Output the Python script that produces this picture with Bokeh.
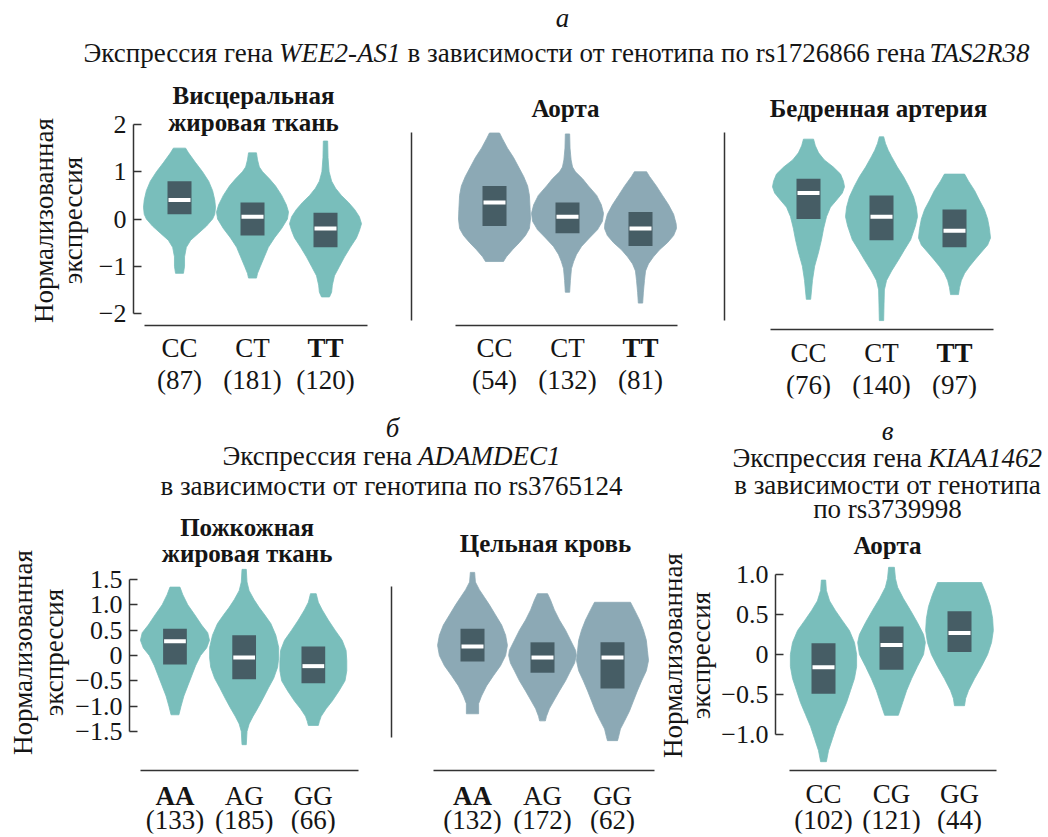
import math
from bokeh.plotting import figure
from bokeh.models import Range1d, LinearAxis, FixedTicker, Label
from bokeh.layouts import column, row
from bokeh.embed import file_html
from bokeh.resources import INLINE

SERIF = "Liberation Serif"
TEXT = "#151515"
AXIS = "#333333"
TEAL = "#79bebb"
SLATE = "#8ca9b5"
BOX = "#465d65"

# ---------------- data ----------------
# violin profiles: *_y = expression level, *_d = relative density (violin half-width, 0..1)
# а: WEE2-AS1 by rs1726866
p1_genotypes = ["CC", "CT", "TT"]
p1_counts = [87, 181, 120]
p1_q1 = [0.10, -0.35, -0.60]
p1_median = [0.40, 0.05, -0.20]
p1_q3 = [0.80, 0.35, 0.13]
p1_cc_y = [-1.15, -1.0, -0.8, -0.6, -0.45, -0.3, -0.15, 0.0, 0.1, 0.25, 0.4, 0.6, 0.8, 1.0, 1.2, 1.4, 1.5]
p1_cc_d = [0.11, 0.14, 0.14, 0.19, 0.31, 0.53, 0.75, 0.92, 0.98, 1.0, 0.98, 0.92, 0.81, 0.64, 0.44, 0.25, 0.17]
p1_ct_y = [-1.25, -1.15, -1.0, -0.8, -0.6, -0.4, -0.2, 0.0, 0.15, 0.3, 0.5, 0.7, 0.85, 1.0, 1.1, 1.25, 1.4]
p1_ct_d = [0.11, 0.14, 0.22, 0.33, 0.44, 0.61, 0.81, 0.97, 1.0, 0.94, 0.81, 0.64, 0.47, 0.28, 0.19, 0.14, 0.11]
p1_tt_y = [-1.65, -1.55, -1.4, -1.2, -1.0, -0.8, -0.6, -0.4, -0.25, -0.1, 0.05, 0.2, 0.35, 0.5, 0.65, 0.8, 1.0, 1.3, 1.65]
p1_tt_d = [0.11, 0.17, 0.19, 0.25, 0.39, 0.53, 0.69, 0.86, 0.94, 1.0, 0.94, 0.81, 0.64, 0.44, 0.28, 0.17, 0.1, 0.07, 0.06]

p2_genotypes = ["CC", "CT", "TT"]
p2_counts = [54, 132, 81]
p2_q1 = [-0.15, -0.30, -0.57]
p2_median = [0.35, 0.05, -0.20]
p2_q3 = [0.70, 0.35, 0.15]
p2_cc_y = [-0.9, -0.8, -0.65, -0.5, -0.35, -0.2, 0.0, 0.2, 0.5, 0.7, 0.9, 1.1, 1.3, 1.5, 1.7, 1.82]
p2_cc_d = [0.25, 0.33, 0.5, 0.69, 0.86, 0.97, 1.0, 0.99, 0.97, 0.92, 0.81, 0.67, 0.53, 0.36, 0.22, 0.14]
p2_ct_y = [-1.55, -1.3, -1.05, -0.9, -0.75, -0.58, -0.4, -0.23, -0.05, 0.12, 0.3, 0.5, 0.7, 0.85, 1.0, 1.1, 1.25, 1.5, 1.8]
p2_ct_d = [0.06, 0.08, 0.11, 0.17, 0.25, 0.39, 0.61, 0.83, 0.97, 1.0, 0.94, 0.81, 0.58, 0.42, 0.22, 0.14, 0.1, 0.07, 0.06]
p2_tt_y = [-1.78, -1.55, -1.3, -1.1, -0.95, -0.8, -0.65, -0.5, -0.35, -0.2, -0.1, 0.1, 0.3, 0.5, 0.7, 0.9, 1.0]
p2_tt_d = [0.06, 0.08, 0.11, 0.14, 0.22, 0.36, 0.53, 0.75, 0.92, 1.0, 0.99, 0.92, 0.78, 0.61, 0.44, 0.25, 0.17]

p3_genotypes = ["CC", "CT", "TT"]
p3_counts = [76, 140, 97]
p3_q1 = [0.0, -0.45, -0.60]
p3_median = [0.55, 0.05, -0.25]
p3_q3 = [0.85, 0.50, 0.20]
p3_cc_y = [-1.7, -1.3, -1.0, -0.7, -0.44, -0.2, 0.05, 0.25, 0.4, 0.55, 0.68, 0.8, 0.95, 1.1, 1.25, 1.4, 1.55, 1.69]
p3_cc_d = [0.06, 0.11, 0.17, 0.28, 0.36, 0.42, 0.5, 0.61, 0.78, 0.94, 1.0, 0.97, 0.89, 0.69, 0.44, 0.28, 0.19, 0.14]
p3_ct_y = [-2.15, -1.8, -1.5, -1.3, -1.1, -0.87, -0.65, -0.44, -0.15, 0.05, 0.25, 0.47, 0.7, 0.9, 1.1, 1.32, 1.45, 1.6, 1.74]
p3_ct_d = [0.06, 0.07, 0.08, 0.14, 0.28, 0.47, 0.64, 0.81, 0.94, 1.0, 0.97, 0.89, 0.75, 0.61, 0.44, 0.28, 0.19, 0.11, 0.06]
p3_tt_y = [-1.6, -1.45, -1.3, -1.15, -1.0, -0.85, -0.7, -0.55, -0.4, -0.2, 0.0, 0.2, 0.4, 0.6, 0.8, 0.95]
p3_tt_d = [0.11, 0.14, 0.19, 0.28, 0.42, 0.58, 0.75, 0.92, 1.0, 0.97, 0.92, 0.83, 0.69, 0.56, 0.39, 0.28]

# б: ADAMDEC1 by rs3765124
p4_genotypes = ["AA", "AG", "GG"]
p4_counts = [133, 185, 66]
p4_q1 = [-0.18, -0.47, -0.55]
p4_median = [0.28, -0.04, -0.21]
p4_q3 = [0.53, 0.40, 0.18]
p4_aa_y = [-1.17, -1.0, -0.8, -0.6, -0.4, -0.2, 0.0, 0.15, 0.3, 0.45, 0.6, 0.8, 1.0, 1.2, 1.35]
p4_aa_d = [0.11, 0.17, 0.25, 0.36, 0.47, 0.58, 0.72, 0.89, 0.97, 0.92, 0.75, 0.56, 0.36, 0.22, 0.14]
p4_ag_y = [-1.76, -1.5, -1.35, -1.2, -1.03, -0.85, -0.63, -0.45, -0.23, -0.05, 0.16, 0.4, 0.63, 0.8, 0.95, 1.1, 1.28, 1.45, 1.7]
p4_ag_d = [0.06, 0.08, 0.14, 0.25, 0.39, 0.53, 0.69, 0.83, 0.94, 0.97, 0.97, 0.89, 0.75, 0.58, 0.42, 0.28, 0.14, 0.08, 0.06]
p4_gg_y = [-1.38, -1.3, -1.2, -1.05, -0.9, -0.7, -0.5, -0.3, -0.1, 0.1, 0.3, 0.5, 0.7, 0.9, 1.05, 1.22]
p4_gg_d = [0.14, 0.17, 0.22, 0.36, 0.53, 0.72, 0.89, 0.94, 0.94, 0.92, 0.81, 0.61, 0.42, 0.25, 0.14, 0.08]

p5_genotypes = ["AA", "AG", "GG"]
p5_counts = [132, 172, 62]
p5_q1 = [-0.12, -0.34, -0.65]
p5_median = [0.18, -0.04, -0.04]
p5_q3 = [0.53, 0.26, 0.26]
p5_aa_y = [-1.15, -0.95, -0.8, -0.6, -0.4, -0.2, 0.0, 0.2, 0.4, 0.6, 0.8, 1.0, 1.15, 1.3, 1.45, 1.64]
p5_aa_d = [0.17, 0.17, 0.25, 0.39, 0.58, 0.78, 0.92, 0.97, 0.92, 0.81, 0.64, 0.47, 0.33, 0.19, 0.08, 0.06]
p5_ag_y = [-1.29, -1.2, -1.05, -0.9, -0.7, -0.5, -0.3, -0.15, 0.0, 0.1, 0.3, 0.5, 0.7, 0.9, 1.1, 1.22]
p5_ag_d = [0.08, 0.11, 0.19, 0.31, 0.47, 0.64, 0.78, 0.89, 0.94, 0.92, 0.78, 0.64, 0.47, 0.33, 0.22, 0.14]
p5_gg_y = [-1.68, -1.6, -1.45, -1.3, -1.1, -0.9, -0.7, -0.5, -0.3, -0.1, 0.1, 0.3, 0.5, 0.7, 0.9, 1.05]
p5_gg_d = [0.14, 0.17, 0.22, 0.33, 0.47, 0.58, 0.69, 0.81, 0.94, 1.0, 0.97, 0.94, 0.86, 0.75, 0.61, 0.5]

# в: KIAA1462 by rs3739998
p6_genotypes = ["CC", "CG", "GG"]
p6_counts = [102, 121, 44]
p6_q1 = [-0.49, -0.19, 0.03]
p6_median = [-0.16, 0.12, 0.27]
p6_q3 = [0.14, 0.35, 0.54]
p6_cc_y = [-1.34, -1.2, -1.05, -0.9, -0.75, -0.6, -0.45, -0.3, -0.15, 0.0, 0.15, 0.3, 0.42, 0.55, 0.67, 0.8, 0.93]
p6_cc_d = [0.08, 0.14, 0.25, 0.36, 0.5, 0.64, 0.75, 0.86, 0.92, 0.92, 0.86, 0.72, 0.53, 0.33, 0.17, 0.08, 0.06]
p6_cg_y = [-0.76, -0.6, -0.45, -0.3, -0.15, 0.0, 0.15, 0.25, 0.4, 0.55, 0.7, 0.84, 0.95, 1.09]
p6_cg_d = [0.19, 0.31, 0.42, 0.56, 0.72, 0.89, 0.94, 0.89, 0.72, 0.53, 0.33, 0.17, 0.11, 0.08]
p6_gg_y = [-0.64, -0.55, -0.45, -0.3, -0.15, 0.0, 0.15, 0.3, 0.45, 0.6, 0.75, 0.9]
p6_gg_d = [0.14, 0.17, 0.25, 0.42, 0.61, 0.78, 0.89, 0.94, 0.92, 0.86, 0.75, 0.61]

ticks_2 = [-2, -1, 0, 1, 2]
ticks_2_text = ["\u22122", "\u22121", "0", "1", "2"]
ticks_15 = [-1.5, -1.0, -0.5, 0, 0.5, 1.0, 1.5]
ticks_15_text = ["\u22121.5", "\u22121.0", "\u22120.5", "0", "0.5", "1.0", "1.5"]
ticks_1 = [-1.0, -0.5, 0, 0.5, 1.0]
ticks_1_text = ["\u22121.0", "\u22120.5", "0", "0.5", "1.0"]

YLABEL_1 = "Нормализованная"
YLABEL_2 = "экспрессия"

# ---------------- layout (page pixels) ----------------
BB = 2  # bottom border of every panel canvas
L1 = dict(cx0=92, cx1=395, cy0=80, cy1=400, left=133, c0=179, sp=73, zero=218.5, ppu=47.25,
          axis_x=(144, 367), axis_y=325, lab_y=347, cnt_y=379)
L2 = dict(cx0=395, cx1=705, cy0=80, cy1=400, left=411, c0=494, sp=73, zero=218.5, ppu=47.25,
          axis_x=(455, 677), axis_y=325, lab_y=347, cnt_y=379, vline=(132, 320))
L3 = dict(cx0=705, cx1=1046, cy0=80, cy1=400, left=724, c0=808, sp=73, zero=218.5, ppu=47.25,
          axis_x=(770, 993), axis_y=329, lab_y=352, cnt_y=384, vline=(132, 320))
L4 = dict(cx0=72, cx1=385, cy0=505, cy1=835, left=126, c0=172, sp=70, zero=655, ppu=50.67,
          axis_x=(137, 358), axis_y=770, lab_y=795, cnt_y=819)
L5 = dict(cx0=385, cx1=655, cy0=505, cy1=835, left=391, c0=472, sp=70, zero=655, ppu=50.67,
          axis_x=(433, 654), axis_y=770, lab_y=795, cnt_y=819, vline=(586, 737))
L6 = dict(cx0=718, cx1=1046, cy0=524, cy1=835, left=775, c0=823, sp=68, zero=654, ppu=80,
          axis_x=(789, 996), axis_y=770, lab_y=793, cnt_y=819)


def to_x(L, px):
    return (px - L["c0"]) / L["sp"]


def to_y(L, py):
    return (L["zero"] - py) / L["ppu"]


def add_text(p, x, y, text, size, style="normal", align="center", angle=0.0):
    p.add_layout(Label(x=x, y=y, text=text, text_font=SERIF, text_font_size=size,
                       text_font_style=style, text_align=align, text_baseline="middle",
                       text_color=TEXT, angle=angle))


def make_panel(L, genotypes, counts, q1, med, q3, vys, vds, color, bold, titles,
               ticks=None, tick_text=None):
    bottom = L["cy1"] - BB
    p = figure(width=L["cx1"] - L["cx0"], height=L["cy1"] - L["cy0"],
               x_range=Range1d(to_x(L, L["left"]), to_x(L, L["cx1"])),
               y_range=Range1d(to_y(L, bottom), to_y(L, L["cy0"])),
               x_axis_type=None, y_axis_type=None, toolbar_location=None,
               output_backend="svg", title_location=None,
               min_border_left=L["left"] - L["cx0"], min_border_right=0,
               min_border_top=0, min_border_bottom=BB)
    p.outline_line_color = None
    p.background_fill_color = "white"
    p.border_fill_color = "white"
    half = 36.0 / L["sp"]
    pos = list(range(len(genotypes)))
    xs, ys = [], []
    for i, (vy, vd) in enumerate(zip(vys, vds)):
        xs.append([i + d * half for d in vd] + [i - d * half for d in reversed(vd)])
        ys.append(list(vy) + list(reversed(vy)))
    p.patches(xs=xs, ys=ys, fill_color=color, line_color=color, line_width=0.8,
              line_join="round")
    p.vbar(x=pos, width=24.0 / L["sp"], bottom=q1, top=q3, fill_color=BOX, line_color=None)
    mh = 11.0 / L["sp"]
    p.segment(x0=[i - mh for i in pos], x1=[i + mh for i in pos], y0=med, y1=med,
              line_color="white", line_width=4)

    if ticks is not None:
        yax = LinearAxis(ticker=FixedTicker(ticks=ticks), bounds=(min(ticks), max(ticks)),
                         major_label_overrides=dict(zip(ticks, tick_text)),
                         major_label_text_font=SERIF, major_label_text_font_size="26px",
                         major_label_text_color=TEXT, major_label_standoff=7,
                         major_tick_in=8, major_tick_out=0, minor_tick_in=0, minor_tick_out=0,
                         axis_line_color=AXIS, axis_line_width=1.5,
                         major_tick_line_color=AXIS, major_tick_line_width=1.5)
    else:
        yax = LinearAxis(ticker=FixedTicker(ticks=[]),
                         bounds=(to_y(L, L["vline"][1]), to_y(L, L["vline"][0])),
                         major_tick_in=0, major_tick_out=0, minor_tick_in=0, minor_tick_out=0,
                         major_label_standoff=0, axis_line_color=AXIS, axis_line_width=1.5)
    p.add_layout(yax, "left")
    xax = LinearAxis(ticker=FixedTicker(ticks=[]), fixed_location=to_y(L, L["axis_y"]),
                     bounds=(to_x(L, L["axis_x"][0]), to_x(L, L["axis_x"][1])),
                     major_tick_in=0, major_tick_out=0, minor_tick_in=0, minor_tick_out=0,
                     major_label_standoff=0, axis_line_color=AXIS, axis_line_width=1.5)
    p.add_layout(xax, "below")

    for i, (g, n) in enumerate(zip(genotypes, counts)):
        add_text(p, i, to_y(L, L["lab_y"]), g, "27px", "bold" if i in bold else "normal")
        add_text(p, i, to_y(L, L["cnt_y"]), "(%d)" % n, "27px")
    for (t, px, py) in titles:
        add_text(p, to_x(L, px), to_y(L, py), t, "25px", "bold")
    return p


def make_blank(x0, x1, y0, y1, bottom_border=0):
    # text-only canvas; data coordinates are page pixels (y negated)
    p = figure(width=x1 - x0, height=y1 - y0,
               x_range=Range1d(x0, x1), y_range=Range1d(-(y1 - bottom_border), -y0),
               x_axis_type=None, y_axis_type=None, toolbar_location=None,
               output_backend="svg", title_location=None,
               min_border_left=0, min_border_right=0, min_border_top=0,
               min_border_bottom=bottom_border)
    p.outline_line_color = None
    return p


def ylabel_strip(x0, x1, y0, y1, x_a, x_b, yc):
    p = make_blank(x0, x1, y0, y1, BB)
    add_text(p, x_a, -yc, YLABEL_1, "27px", angle=math.pi / 2)
    add_text(p, x_b, -yc, YLABEL_2, "27px", angle=math.pi / 2)
    return p


HS = "27px"

ha = make_blank(0, 1046, 0, 80)
add_text(ha, 562, -17, "а", HS, "italic")
add_text(ha, 83, -52, "Экспрессия гена", HS, align="left")
add_text(ha, 278.5, -52, "WEE2-AS1", HS, "italic", align="left")
add_text(ha, 407, -52, "в зависимости от генотипа по rs1726866 гена", HS, align="left")
add_text(ha, 929, -52, "TAS2R38", HS, "italic", align="left")

hb = make_blank(0, 655, 400, 505)
add_text(hb, 392, -427, "б", HS, "italic")
add_text(hb, 222, -455, "Экспрессия гена", HS, align="left")
add_text(hb, 417.5, -455, "ADAMDEC1", HS, "italic", align="left")
add_text(hb, 391, -485, "в зависимости от генотипа по rs3765124", HS)

hc = make_blank(655, 1046, 400, 524)
add_text(hc, 887, -430, "в", HS, "italic")
add_text(hc, 732, -457, "Экспрессия гена", HS, align="left")
add_text(hc, 927.5, -457, "KIAA1462", HS, "italic", align="left")
add_text(hc, 887, -484, "в зависимости от генотипа", HS)
add_text(hc, 887, -508, "по rs3739998", HS)

y1s = ylabel_strip(0, 92, 80, 400, 43, 72, 220)
y4s = ylabel_strip(0, 72, 505, 835, 22, 53, 652)
y6s = ylabel_strip(655, 718, 524, 835, 672, 700, 655)

p1 = make_panel(L1, p1_genotypes, p1_counts, p1_q1, p1_median, p1_q3,
                [p1_cc_y, p1_ct_y, p1_tt_y], [p1_cc_d, p1_ct_d, p1_tt_d], TEAL, [2],
                [("Висцеральная", 253, 95), ("жировая ткань", 253, 122)], ticks_2, ticks_2_text)
p2 = make_panel(L2, p2_genotypes, p2_counts, p2_q1, p2_median, p2_q3,
                [p2_cc_y, p2_ct_y, p2_tt_y], [p2_cc_d, p2_ct_d, p2_tt_d], SLATE, [2],
                [("Аорта", 565, 108)])
p3 = make_panel(L3, p3_genotypes, p3_counts, p3_q1, p3_median, p3_q3,
                [p3_cc_y, p3_ct_y, p3_tt_y], [p3_cc_d, p3_ct_d, p3_tt_d], TEAL, [2],
                [("Бедренная артерия", 878, 108)])
p4 = make_panel(L4, p4_genotypes, p4_counts, p4_q1, p4_median, p4_q3,
                [p4_aa_y, p4_ag_y, p4_gg_y], [p4_aa_d, p4_ag_d, p4_gg_d], TEAL, [0],
                [("Пожкожная", 245, 527), ("жировая ткань", 245, 553)], ticks_15, ticks_15_text)
p5 = make_panel(L5, p5_genotypes, p5_counts, p5_q1, p5_median, p5_q3,
                [p5_aa_y, p5_ag_y, p5_gg_y], [p5_aa_d, p5_ag_d, p5_gg_d], SLATE, [0],
                [("Цельная кровь", 545, 543)])
p6 = make_panel(L6, p6_genotypes, p6_counts, p6_q1, p6_median, p6_q3,
                [p6_cc_y, p6_cg_y, p6_gg_y], [p6_cc_d, p6_cg_d, p6_gg_d], TEAL, [],
                [("Аорта", 887, 545)], ticks_1, ticks_1_text)

layout = column(
    row(ha),
    row(y1s, p1, p2, p3),
    row(column(row(hb), row(y4s, p4, p5)), column(row(hc), row(y6s, p6))),
)

open("out.html", "w").write(file_html(layout, INLINE, title="Экспрессия генов"))
